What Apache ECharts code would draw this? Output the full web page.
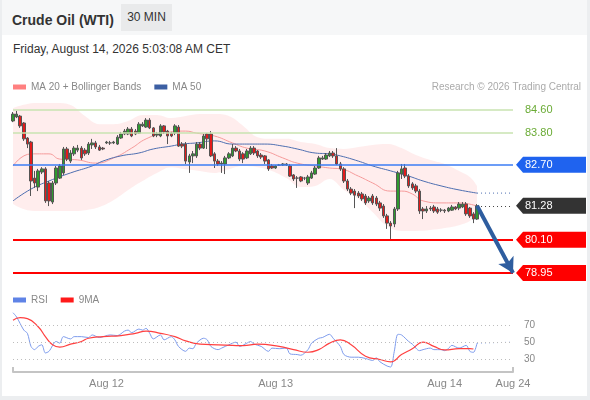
<!DOCTYPE html>
<html>
<head>
<meta charset="utf-8">
<script src="https://cdn.jsdelivr.net/npm/echarts@6.0.0/dist/echarts.min.js"></script>
<style>
  html, body { margin: 0; padding: 0; }
  body { width: 590px; height: 400px; background: #eceef0; position: relative; overflow: hidden; font-family: 'Liberation Sans', Arial, sans-serif; }
  #card { position: absolute; left: 2px; top: 0; width: 585px; height: 396px; background: #fff; }
  #head { position: absolute; left: 0; top: 0; width: 585px; height: 35px; background: #f6f7f8; }
  #title { position: absolute; left: 10px; top: 11px; font-size: 14px; font-weight: bold; color: #333; line-height: 18px; }
  #badge { position: absolute; left: 119px; top: 4px; width: 51px; height: 27px; background: #e9eaeb; color: #333; font-size: 12px; line-height: 27px; text-align: center; }
  #stamp { position: absolute; left: 11px; top: 41px; font-size: 12px; color: #333; line-height: 16px; }
  #chart { position: absolute; left: 0; top: 0; width: 590px; height: 400px; }
</style>
</head>
<body>
<div id="card">
  <div id="head">
    <div id="title">Crude Oil (WTI)</div>
    <div id="badge">30 MIN</div>
  </div>
  <div id="stamp">Friday, August 14, 2026 5:03:08 AM CET</div>
</div>
<div id="chart"></div>
<script>
// x slots: candles sit on 0..129, the rest is the projection area
const slotCount = 140;
const tickIndex = [26, 73, 120, 139];
const tickText = ['Aug 12', 'Aug 13', 'Aug 14', 'Aug 24'];

// [open, close, low, high]
const candles = [
  [84.22, 84.46, 84.18, 84.53], [84.36, 84.46, 84.32, 84.57], [84.39, 84.05, 83.98, 84.43], [84.15, 83.60, 83.53, 84.18],
  [83.63, 83.42, 83.28, 83.66], [83.49, 82.14, 81.62, 83.53], [82.24, 82.07, 81.90, 82.49], [81.93, 82.49, 81.79, 82.56],
  [82.45, 82.56, 82.38, 82.62], [82.56, 81.45, 81.38, 82.62], [82.07, 81.45, 81.27, 82.14], [81.41, 82.07, 81.34, 82.14],
  [82.07, 82.59, 82.00, 82.66], [82.24, 82.66, 82.21, 82.73], [82.42, 83.25, 82.35, 83.32], [83.25, 82.90, 82.83, 83.32],
  [82.83, 83.11, 82.76, 83.21], [83.08, 83.28, 83.01, 83.35], [83.21, 83.28, 83.14, 83.39], [83.28, 82.94, 82.87, 83.35],
  [83.21, 83.08, 83.01, 83.28], [83.11, 83.42, 83.04, 83.49], [83.39, 83.46, 83.25, 83.60], [83.46, 83.32, 83.25, 83.53],
  [83.32, 83.21, 83.18, 83.39], [83.28, 83.25, 83.21, 83.32], [83.46, 83.49, 83.42, 83.53], [83.46, 83.46, 83.39, 83.53],
  [83.46, 83.49, 83.42, 83.53], [83.42, 83.66, 83.39, 83.73], [83.63, 83.77, 83.60, 83.84], [83.77, 83.87, 83.73, 83.94],
  [83.77, 83.94, 83.73, 84.01], [83.94, 83.70, 83.66, 84.01], [83.87, 83.77, 83.73, 83.94], [83.80, 84.11, 83.77, 84.18],
  [84.05, 84.11, 84.01, 84.18], [84.01, 84.25, 83.98, 84.32], [84.25, 83.98, 83.94, 84.32], [83.98, 83.70, 83.66, 84.01],
  [83.73, 83.77, 83.66, 83.84], [83.70, 84.05, 83.66, 84.11], [84.05, 83.84, 83.77, 84.08], [83.87, 83.70, 83.42, 83.91],
  [83.80, 83.70, 83.66, 83.84], [83.80, 84.05, 83.73, 84.11], [84.01, 83.35, 83.32, 84.08], [83.42, 83.35, 83.28, 83.49],
  [83.42, 82.83, 82.73, 83.49], [82.80, 83.01, 82.42, 83.08], [83.01, 83.08, 82.76, 83.18], [83.01, 83.42, 82.94, 83.49],
  [83.42, 83.28, 83.21, 83.49], [83.28, 83.70, 83.25, 83.77], [83.77, 83.60, 83.25, 83.80], [83.77, 83.01, 82.97, 83.87],
  [83.08, 82.83, 82.59, 83.14], [82.83, 82.73, 82.66, 82.90], [82.73, 82.76, 82.42, 82.83], [82.73, 82.94, 82.38, 83.01],
  [82.94, 83.08, 82.90, 83.14], [83.01, 83.28, 82.97, 83.42], [83.28, 83.18, 83.14, 83.35], [83.18, 82.90, 82.83, 83.25],
  [83.08, 82.90, 82.76, 83.14], [82.94, 83.18, 82.90, 83.25], [83.08, 83.28, 83.04, 83.35], [83.28, 83.11, 83.04, 83.35],
  [83.18, 83.01, 82.94, 83.21], [83.04, 82.97, 82.90, 83.11], [83.01, 82.83, 82.73, 83.04], [82.87, 82.56, 82.49, 82.90],
  [82.66, 82.59, 82.56, 82.73], [82.59, 82.66, 82.56, 82.69], [82.69, 82.69, 82.66, 82.73], [82.69, 82.73, 82.66, 82.76],
  [82.69, 82.73, 82.66, 82.76], [82.66, 82.31, 82.28, 82.73], [82.35, 82.21, 82.14, 82.38], [82.24, 82.24, 81.90, 82.31],
  [82.28, 82.14, 82.10, 82.31], [82.24, 82.24, 82.17, 82.28], [82.07, 82.28, 82.00, 82.35], [82.24, 82.42, 82.21, 82.49],
  [82.38, 82.59, 82.35, 82.66], [82.59, 82.94, 82.56, 83.01], [82.90, 82.94, 82.87, 83.01], [82.90, 83.04, 82.87, 83.11],
  [83.01, 83.11, 82.97, 83.18], [83.11, 83.01, 82.94, 83.18], [83.01, 82.73, 82.69, 83.28], [82.73, 82.56, 82.49, 82.80],
  [82.56, 82.14, 82.07, 82.62], [82.14, 81.86, 81.79, 82.21], [81.86, 81.72, 81.65, 81.93], [81.79, 81.65, 81.20, 81.86],
  [81.72, 81.62, 81.55, 81.79], [81.69, 81.52, 81.45, 81.76], [81.62, 81.38, 81.31, 81.69], [81.45, 81.55, 81.38, 81.62],
  [81.62, 81.38, 81.31, 81.69], [81.55, 81.34, 81.27, 81.62], [81.38, 81.20, 81.10, 81.45], [81.27, 80.93, 80.86, 81.34],
  [80.93, 80.68, 80.48, 81.00], [80.68, 80.58, 80.13, 80.75], [80.65, 81.17, 80.54, 81.24], [81.17, 82.42, 81.10, 82.49],
  [82.38, 82.56, 82.21, 82.73], [82.59, 82.31, 82.24, 82.73], [82.31, 81.97, 81.90, 82.38], [82.04, 81.90, 81.83, 82.10],
  [81.97, 81.79, 81.72, 82.04], [81.79, 81.10, 81.00, 81.86], [81.17, 81.10, 80.82, 81.24], [81.10, 81.17, 81.03, 81.27],
  [81.20, 81.17, 81.10, 81.27], [81.24, 81.10, 81.03, 81.31], [81.17, 81.06, 81.00, 81.24], [81.13, 81.13, 81.06, 81.20],
  [81.13, 81.10, 81.03, 81.17], [81.10, 81.20, 81.06, 81.24], [81.13, 81.24, 81.10, 81.31], [81.24, 81.17, 81.13, 81.27],
  [81.20, 81.34, 81.13, 81.41], [81.24, 81.34, 81.20, 81.41], [81.34, 81.00, 80.93, 81.41], [81.20, 80.93, 80.86, 81.24],
  [81.00, 80.82, 80.68, 81.06], [80.82, 81.28, 80.79, 81.34]
];

// moving averages, read at sampled slots [slot, price]
const ma20 = [[0, 82.66], [5, 83.08], [10, 83.08], [13, 82.90], [18, 82.87], [23, 82.76], [28, 82.94], [33, 83.28],
  [37, 83.60], [42, 83.80], [48, 83.87], [51, 83.80], [56, 83.70], [61, 83.46], [65, 83.28], [70, 83.18], [75, 82.94],
  [79, 82.76], [84, 82.66], [88, 82.59], [91, 82.56], [96, 82.31], [100, 82.07], [105, 81.79], [108, 81.79], [111, 81.69],
  [114, 81.45], [119, 81.38], [124, 81.38], [129, 81.27]];
const ma50 = [[0, 81.45], [5, 81.86], [10, 82.14], [16, 82.42], [22, 82.66], [25, 82.83], [30, 83.01], [35, 83.11],
  [39, 83.25], [44, 83.35], [47, 83.42], [51, 83.46], [56, 83.53], [61, 83.42], [65, 83.42], [70, 83.42], [75, 83.35],
  [79, 83.25], [84, 83.11], [88, 83.08], [91, 83.01], [96, 82.83], [100, 82.66], [105, 82.49], [110, 82.31], [114, 82.14],
  [119, 81.97], [124, 81.83], [129, 81.72]];
const ma50Ext = [[129, 81.72], [139, 81.72]];

// Bollinger band edges at the same slots
const bandSlots = [0, 4, 8, 12, 16, 20, 24, 28, 32, 36, 40, 44, 48, 52, 56, 60, 64, 68, 72, 76, 80, 84, 88, 92, 96, 100,
  104, 108, 112, 116, 120, 124, 127, 129];
const bandUpper = [84.67, 84.81, 84.84, 84.84, 84.77, 84.39, 84.11, 84.11, 84.22, 84.43, 84.43, 84.32, 84.39, 84.46,
  84.46, 84.39, 84.05, 83.66, 83.60, 83.60, 83.49, 83.42, 83.28, 83.25, 83.32, 83.39, 83.42, 83.28, 83.04, 82.87, 82.73,
  82.49, 82.28, 81.97];
const bandLower = [81.34, 81.13, 81.10, 81.10, 81.10, 81.13, 81.24, 81.48, 81.83, 82.14, 82.42, 82.62, 82.55, 82.49,
  82.42, 82.55, 82.66, 82.62, 82.49, 82.24, 81.93, 81.97, 82.21, 81.83, 81.52, 81.06, 80.58, 80.41, 80.41, 80.44, 80.51,
  80.61, 80.75, 81.00];

// key levels
const resistLevels = [84.60, 83.80];
const pivotLevel = 82.70;
const lastPrice = 81.28;
const supportLevels = [80.10, 78.95];
const lastSlot = 129;
const targetSlot = 139;

// RSI panel
const rsi = [[0, 84.6], [1, 79.6], [3, 64.2], [4, 60.4], [5, 45], [6, 41.2], [7, 45], [8, 46.9], [9, 37.3], [10, 39.2],
  [12, 50.8], [13, 48.8], [14, 56.5], [16, 53.8], [17, 56.5], [19, 56.5], [21, 55.4], [22, 58.5], [24, 55.4], [27, 58.5],
  [29, 57.7], [31, 63], [32, 64.2], [33, 61.2], [35, 65.4], [36, 64.2], [37, 66.2], [38, 60.4], [39, 53.8], [41, 58.5],
  [42, 52.7], [44, 56.5], [45, 52.7], [46, 45], [48, 39.2], [49, 43], [50, 42.3], [51, 48.8], [53, 54.6], [54, 52.7],
  [55, 45], [57, 41.2], [58, 43], [60, 46.9], [62, 50], [63, 45], [65, 48.8], [66, 50.8], [67, 47.7], [69, 45], [71, 39.2],
  [72, 43], [74, 42.3], [76, 43], [77, 36.2], [79, 35.4], [80, 34.6], [82, 41.2], [83, 48.8], [85, 54.6], [86, 55.4],
  [88, 59.2], [89, 54.6], [91, 45], [92, 35.4], [94, 32.3], [96, 32.3], [98, 30.8], [100, 28.5], [101, 31.5], [102, 26.9],
  [104, 21.9], [105, 20.8], [106, 39.2], [107, 59.2], [108, 58.5], [110, 50.8], [111, 47.7], [113, 40], [114, 41.2],
  [116, 43], [117, 41.2], [119, 41.2], [120, 40], [121, 42.3], [122, 46.2], [124, 43], [126, 46.2], [127, 39.2], [128, 38],
  [129, 48.8]];
const rsiExt = [[129, 48.8], [139, 50]];
const rsiMa = [[0, 75.8], [2, 78.8], [4, 77.7], [7, 68.1], [9, 56.5], [11, 46.9], [13, 44.2], [16, 47.7], [19, 50.8],
  [21, 54.6], [25, 56.5], [30, 57.7], [34, 60.4], [37, 63], [41, 60.4], [45, 56.5], [48, 51.5], [52, 47.7], [57, 46.9],
  [61, 46.2], [64, 45.8], [68, 47.7], [74, 45], [78, 41.2], [82, 38.1], [85, 41.2], [88, 48.8], [91, 52.7], [94, 46.9],
  [98, 33.5], [102, 29.6], [105, 26.9], [108, 35.4], [111, 42.3], [114, 50], [117, 45], [120, 40.8], [124, 42.3],
  [127, 42.3], [128, 41.9]];
const rsiGuides = [30, 50, 70];

const slots = [];
for (let i = 0; i < slotCount; i++) slots.push(String(i));

const bandBase = bandSlots.map((s, i) => [s, bandLower[i]]);
const bandSpan = bandSlots.map((s, i) => [s, +(bandUpper[i] - bandLower[i]).toFixed(2)]);

const chart = echarts.init(document.getElementById('chart'));

const tag = (price, color) => ({ name: price.toFixed(2), coord: [targetSlot, price], itemStyle: { color: color } });

const option = {
  animation: false,
  backgroundColor: 'transparent',
  textStyle: { fontFamily: 'Liberation Sans, Arial, sans-serif' },
  title: {
    text: 'Research © 2026 Trading Central',
    right: 9, top: 82, padding: 0,
    textStyle: { fontSize: 10, color: '#aaa', fontWeight: 'normal' }
  },
  legend: [
    {
      data: [
        { name: 'MA 20 + Bollinger Bands', itemStyle: { color: '#ff8080' } },
        { name: 'MA 50', itemStyle: { color: '#3c5fa3' } }
      ],
      left: 13, top: 82, padding: 0, icon: 'rect', itemWidth: 13, itemHeight: 5, itemGap: 13,
      selectedMode: false, textStyle: { color: '#888', fontSize: 10 }
    },
    {
      data: [
        { name: 'RSI', itemStyle: { color: '#5f83e6' } },
        { name: '9MA', itemStyle: { color: '#ff1a1a' } }
      ],
      left: 13, top: 295, padding: 0, icon: 'rect', itemWidth: 13, itemHeight: 5, itemGap: 13,
      selectedMode: false, textStyle: { color: '#888', fontSize: 10 }
    }
  ],
  grid: [
    { left: 13, right: 77, top: 95.6, height: 190.4 },
    { left: 13, right: 77, top: 309, height: 62.9 }
  ],
  xAxis: [
    { type: 'category', gridIndex: 0, data: slots, boundaryGap: false, show: false },
    {
      type: 'category', gridIndex: 1, data: slots, boundaryGap: false,
      axisLine: { lineStyle: { color: '#c4c4c4', width: 2 } },
      axisTick: {
        show: true, inside: true, length: 5,
        interval: (i) => i === 0 || i === slotCount - 1,
        lineStyle: { color: '#c4c4c4', width: 2 }
      },
      axisLabel: {
        interval: (i) => tickIndex.indexOf(i) >= 0,
        formatter: (v, i) => tickText[tickIndex.indexOf(i)] || '',
        color: '#888', fontSize: 11, margin: 7
      }
    }
  ],
  yAxis: [
    { type: 'value', gridIndex: 0, min: 78.5, max: 85.1, show: false },
    {
      type: 'value', gridIndex: 1, min: 15, max: 89, position: 'right',
      axisLine: { show: false },
      axisTick: { show: false, customValues: rsiGuides },
      axisLabel: { customValues: rsiGuides, color: '#888', fontSize: 10, margin: 11 },
      splitLine: { show: false }
    }
  ],
  series: [
    {
      name: 'bb-low', type: 'line', data: bandBase, stack: 'bb', smooth: 0.4, symbol: 'none', silent: true,
      lineStyle: { opacity: 0 }, z: 1
    },
    {
      name: 'bb-span', type: 'line', data: bandSpan, stack: 'bb', smooth: 0.4, symbol: 'none', silent: true,
      lineStyle: { opacity: 0 }, areaStyle: { color: 'rgba(255,140,140,0.22)' }, z: 1
    },
    {
      name: 'MA 20 + Bollinger Bands', type: 'line', data: ma20, smooth: 0.5, symbol: 'none',
      itemStyle: { color: '#ff8080' }, lineStyle: { color: '#f59a9a', width: 1 }, z: 3
    },
    {
      name: 'MA 50', type: 'line', data: ma50, smooth: 0.5, symbol: 'none',
      itemStyle: { color: '#3c5fa3' }, lineStyle: { color: '#4d6eb0', width: 1 }, z: 3
    },
    {
      name: 'ma50-ext', type: 'line', data: ma50Ext, symbol: 'none', silent: true,
      lineStyle: { color: '#4d6eb0', width: 1, type: [1, 3] }, z: 3
    },
    {
      name: 'WTI', type: 'candlestick', data: candles, barWidth: 3, clip: false, z: 4,
      itemStyle: { color: '#2f9a2f', color0: '#e31b1b', borderColor: '#555', borderColor0: '#555', borderWidth: 1 },
      markLine: {
        silent: true, symbol: ['none', 'none'], animation: false,
        label: { show: false },
        data: [
          ...resistLevels.map(p => ({
            name: p.toFixed(2), yAxis: p,
            lineStyle: { color: '#c9e3b1', width: 1.5, type: 'solid' },
            label: { show: true, position: 'end', formatter: '{b}', color: '#6aab35', fontSize: 11, distance: 12 }
          })),
          { yAxis: pivotLevel, lineStyle: { color: '#3b7cf4', width: 1.5, type: 'solid' } },
          ...supportLevels.map(p => ({ yAxis: p, lineStyle: { color: '#ff0000', width: 2, type: 'solid' } })),
          [
            { coord: [lastSlot, lastPrice], lineStyle: { color: '#444', width: 1, type: [1, 3] } },
            { coord: [targetSlot, lastPrice] }
          ],
          [
            { coord: [lastSlot, lastPrice], symbol: 'none', lineStyle: { color: '#2e5d9f', width: 4, type: 'solid' } },
            { coord: [targetSlot, supportLevels[1]], symbol: 'arrow', symbolSize: [13, 15] }
          ]
        ]
      },
      markPoint: {
        silent: true, animation: false,
        symbol: 'path://M0,8L7,0L70,0L70,16L7,16Z', symbolSize: [70, 16], symbolOffset: [38, 0],
        label: { show: true, position: 'insideLeft', distance: 9, color: '#fff', fontSize: 11, formatter: '{b}' },
        data: [
          tag(pivotLevel, '#1f63ef'),
          tag(lastPrice, '#333333'),
          tag(supportLevels[0], '#ff0000'),
          tag(supportLevels[1], '#ff0000')
        ]
      }
    },
    {
      name: 'RSI', type: 'line', xAxisIndex: 1, yAxisIndex: 1, data: rsi, smooth: 0.3, symbol: 'none',
      itemStyle: { color: '#5f83e6' }, lineStyle: { color: '#7d9bec', width: 1 }, z: 3,
      markLine: {
        silent: true, symbol: ['none', 'none'], animation: false, label: { show: false },
        lineStyle: { color: '#bdbdbd', width: 1, type: [1, 3] },
        data: rsiGuides.map(v => ({ yAxis: v }))
      }
    },
    {
      name: 'rsi-ext', type: 'line', xAxisIndex: 1, yAxisIndex: 1, data: rsiExt, symbol: 'none', silent: true,
      lineStyle: { color: '#7d9bec', width: 1, type: [1, 3] }
    },
    {
      name: '9MA', type: 'line', xAxisIndex: 1, yAxisIndex: 1, data: rsiMa, smooth: 0.5, symbol: 'none',
      itemStyle: { color: '#ff1a1a' }, lineStyle: { color: '#ff4040', width: 1.2 }, z: 4
    }
  ]
};

chart.setOption(option);
</script>
</body>
</html>
